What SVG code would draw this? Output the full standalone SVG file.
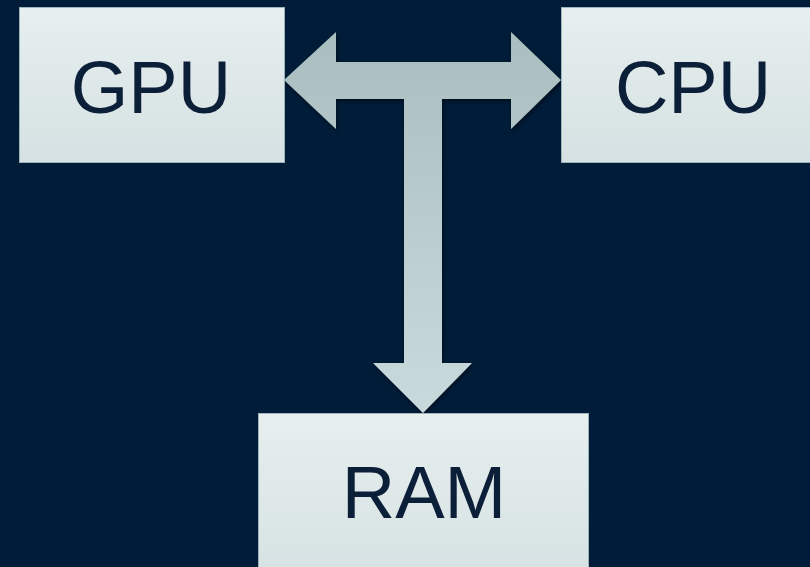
<svg xmlns="http://www.w3.org/2000/svg" width="810" height="567" viewBox="0 0 810 567">
<style>
.box{fill:url(#boxg);stroke:#9fb4b8;stroke-width:1}
.lbl{font-family:"Liberation Sans",Arial,sans-serif;font-size:74px;fill:#0b1f38;text-anchor:middle}
</style>
<defs>
<linearGradient id="boxg" x1="0" y1="0" x2="0" y2="1">
<stop offset="0" stop-color="#e7efef"/>
<stop offset="1" stop-color="#d5e1e2"/>
</linearGradient>
<linearGradient id="arrg" gradientUnits="userSpaceOnUse" x1="0" y1="32" x2="0" y2="413">
<stop offset="0" stop-color="#a9bebf"/>
<stop offset="1" stop-color="#cadadc"/>
</linearGradient>
<filter id="sh" x="-10%" y="-10%" width="120%" height="120%">
<feDropShadow dx="1" dy="2" stdDeviation="2" flood-color="#000" flood-opacity="0.5"/>
</filter>
</defs>
<rect width="810" height="567" fill="#001c38"/>
<g id="connectors">
<path d="M284,80 L336,32 L336,62 L511,62 L511,32 L561,80 L511,129 L511,99 L442,99 L442,363 L472,363 L423,413 L373,363 L404,363 L404,99 L336,99 L336,129 Z" fill="url(#arrg)" filter="url(#sh)"/>
</g>
<g id="gpu">
<rect class="box" x="19.5" y="7.5" width="265" height="155"/>
<text class="lbl" x="151" y="113">GPU</text>
</g>
<g id="cpu">
<rect class="box" x="561.5" y="7.5" width="265" height="155"/>
<text class="lbl" x="693" y="113">CPU</text>
</g>
<g id="ram">
<rect class="box" x="258.5" y="413.5" width="330" height="170"/>
<text class="lbl" x="424" y="518">RAM</text>
</g>
</svg>
